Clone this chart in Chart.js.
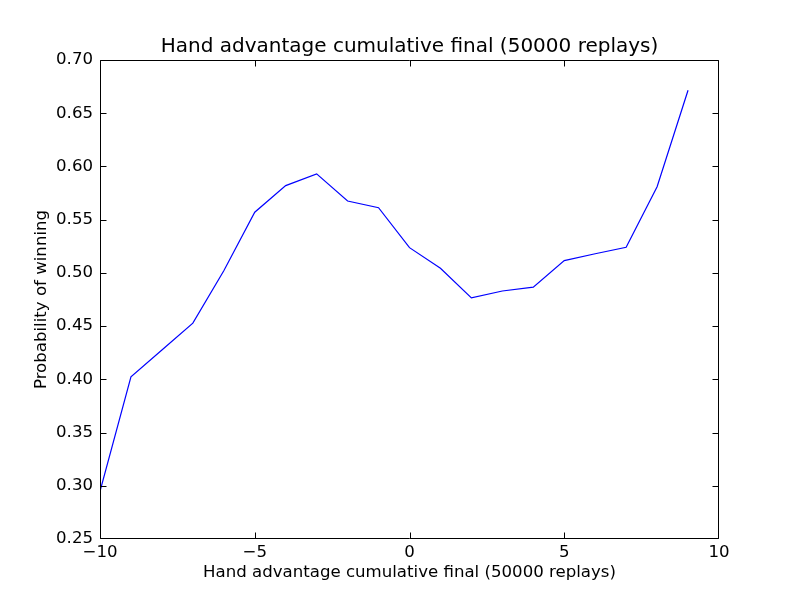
<!DOCTYPE html>
<html>
<head>
<meta charset="utf-8">
<script src="https://cdn.jsdelivr.net/npm/chart.js@4/dist/chart.umd.min.js"></script>
<style>
html,body{margin:0;padding:0;background:#fff;}
canvas{display:block;}
</style>
</head>
<body>
<canvas id="c" width="800" height="600"></canvas>
<script>
const titleText = "Hand advantage cumulative final (50000 replays)";
const xLabel = "Hand advantage cumulative final (50000 replays)";
const yLabel = "Probability of winning";
const xValues = [-10,-9,-8,-7,-6,-5,-4,-3,-2,-1,0,1,2,3,4,5,6,7,8,9];
const yValues = [0.2947,0.4024,0.4275,0.4528,0.502,0.557,0.582,0.593,0.5675,0.5612,
                 0.5237,0.5044,0.4765,0.483,0.4866,0.5115,0.518,0.524,0.581,0.6716];
const xTicks = [-10,-5,0,5,10];
const yTicks = [0.25,0.30,0.35,0.40,0.45,0.50,0.55,0.60,0.65,0.70];

const FONT = "'DejaVu Sans', sans-serif";

const framePlugin = {
  id: 'frame',
  afterDraw(chart) {
    const ctx = chart.ctx;
    const a = chart.chartArea;
    const xs = chart.scales.x, ys = chart.scales.y;
    ctx.save();
    ctx.strokeStyle = '#000';
    ctx.lineWidth = 1;
    const L = Math.round(a.left) + 0.5, R = Math.round(a.right) - 0.5;
    const T = Math.round(a.top) + 0.5, B = Math.round(a.bottom) - 0.5;
    ctx.beginPath();
    ctx.rect(L, T, R - L, B - T);
    ctx.stroke();
    const tl = 6;
    const clamp = (v, lo, hi) => Math.min(hi, Math.max(lo, v));
    ctx.beginPath();
    xTicks.forEach(v => {
      const px = clamp(Math.round(xs.getPixelForValue(v)) + 0.5, L, R);
      ctx.moveTo(px, B); ctx.lineTo(px, B - tl);
      ctx.moveTo(px, T); ctx.lineTo(px, T + tl);
    });
    yTicks.forEach(v => {
      const py = clamp(Math.round(ys.getPixelForValue(v)) + 0.5, T, B);
      ctx.moveTo(L, py); ctx.lineTo(L + tl, py);
      ctx.moveTo(R, py); ctx.lineTo(R - tl, py);
    });
    ctx.stroke();
    ctx.restore();
  }
};

new Chart(document.getElementById('c'), {
  type: 'line',
  data: {
    datasets: [{
      data: xValues.map((x, i) => ({x: x, y: yValues[i]})),
      borderColor: '#0000ff',
      borderWidth: 1.2,
      pointRadius: 0,
      tension: 0,
      fill: false
    }]
  },
  options: {
    responsive: false,
    animation: false,
    devicePixelRatio: 1,
    layout: {padding: {left: 0, right: 81, top: 0, bottom: 0}},
    plugins: {
      legend: {display: false},
      tooltip: {enabled: false},
      title: {
        display: true,
        fullSize: false,
        align: 'center',
        text: titleText,
        color: '#000',
        font: {family: FONT, size: 20, weight: 'normal', lineHeight: 1.2},
        padding: {top: 35, bottom: 1}
      }
    },
    scales: {
      x: {
        type: 'linear',
        min: -10, max: 10,
        afterBuildTicks(scale) { scale.ticks = xTicks.map(v => ({value: v})); },
        afterFit(scale) { scale.height = 61; },
        grid: {display: false, drawTicks: false},
        border: {display: false},
        ticks: {
          color: '#000',
          padding: 4,
          maxRotation: 0,
          font: {family: FONT, size: 16.6},
          callback: v => String(v).replace('-', '\u2212')
        },
        title: {
          display: true,
          text: xLabel,
          color: '#000',
          font: {family: FONT, size: 16.6},
          padding: {top: 0, bottom: 17}
        }
      },
      y: {
        type: 'linear',
        min: 0.25, max: 0.70,
        afterBuildTicks(scale) { scale.ticks = yTicks.map(v => ({value: v})); },
        afterFit(scale) { scale.width = 100; },
        grid: {display: false, drawTicks: false},
        border: {display: false},
        ticks: {
          color: '#000',
          padding: 7,
          font: {family: FONT, size: 16.6},
          callback: v => Number(v).toFixed(2)
        },
        title: {
          display: true,
          text: yLabel,
          color: '#000',
          font: {family: FONT, size: 16.6},
          padding: {top: 32, bottom: 0}
        }
      }
    }
  },
  plugins: [framePlugin]
});
</script>
</body>
</html>
